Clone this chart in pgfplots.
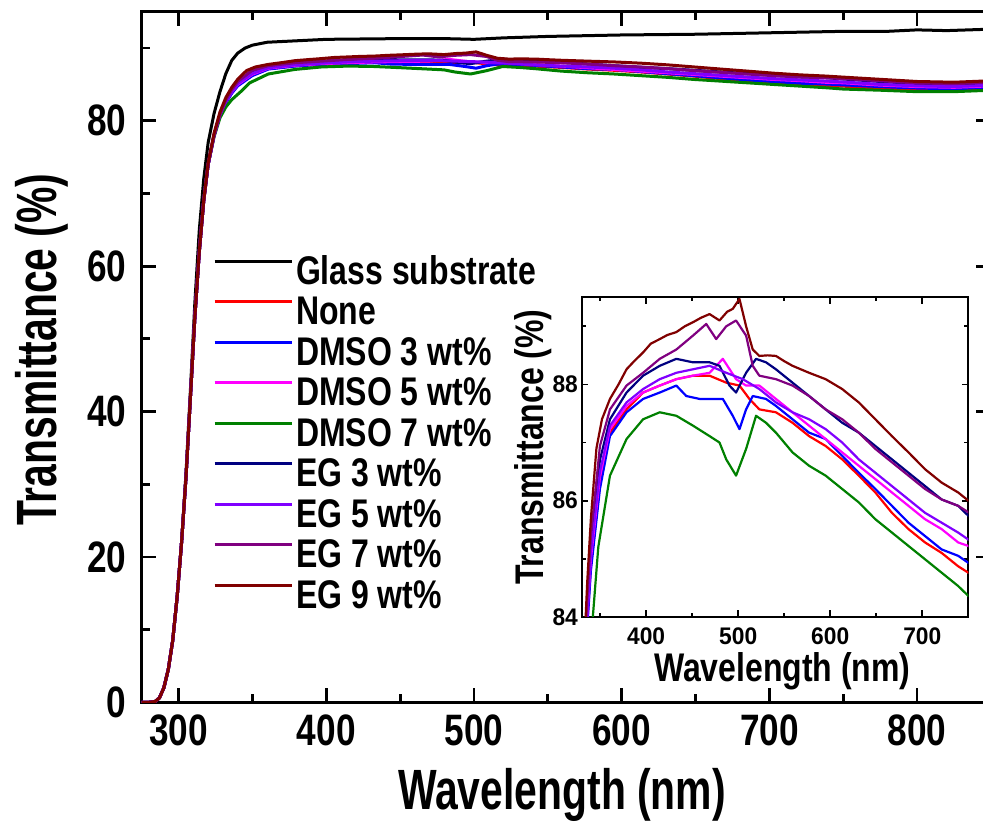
\documentclass[border=0pt]{standalone}
\usepackage{fontspec}
\setmainfont{Liberation Sans}[FakeStretch=0.8]
\newfontfamily\labfont{Liberation Sans}[FakeStretch=0.72]
\newfontfamily\insetfont{Liberation Sans}[FakeStretch=0.95]
\usepackage{pgfplots}
\usepackage{pgfplotstable}
\pgfplotsset{compat=1.18}

\definecolor{cnone}{RGB}{255,0,0}
\definecolor{cdmsoa}{RGB}{0,0,255}
\definecolor{cdmsob}{RGB}{255,0,255}
\definecolor{cdmsoc}{RGB}{0,128,0}
\definecolor{cega}{RGB}{0,0,128}
\definecolor{cegb}{RGB}{128,0,255}
\definecolor{cegc}{RGB}{128,0,128}
\definecolor{cegd}{RGB}{128,0,0}

% wavelength (nm)  transmittance (%)
\pgfplotstableread{
x y
275 0.0
280 0.0
284 0.1
287 0.6
290 2.0
293 4.5
296 8.5
299 14.5
302 22.0
305 31.5
308 43.0
311 55.0
314 65.0
317 72.0
320 77.0
324 81.0
328 84.0
332 86.5
336 88.3
340 89.3
345 90.0
350 90.4
360 90.8
380 91.0
400 91.2
450 91.3
480 91.3
500 91.2
520 91.4
550 91.6
600 91.8
650 91.9
700 92.1
750 92.3
780 92.3
800 92.5
820 92.4
850 92.6
}\glass

\pgfplotstableread{
x y
275 0.0
280 0.0
284 0.1
287 0.6
290 2.0
293 4.5
296 8.5
299 14.5
302 22.0
305 31.0
308 42.0
311 53.0
314 62.0
317 69.0
320 74.0
324 78.0
328 80.8
332 82.6
336 83.9
340 84.9
349.8 86.3
360.7 87.17
378.7 87.57
396.7 87.86
414.8 87.98
432.8 88.09
450.9 88.15
468.9 88.15
487 88.03
501.4 87.98
512.2 87.75
523 87.57
541 87.52
559 87.34
577 87.11
595 86.94
613 86.71
631 86.43
649 86.14
667 85.79
685 85.51
703 85.28
721 85.10
739 84.87
750 84.76
775 84.5
800 84.3
825 84.2
850 84.4
}\none

\pgfplotstableread{
x y
275 0.0
280 0.0
284 0.1
287 0.6
290 2.0
293 4.5
296 8.5
299 14.5
302 22.0
305 31.0
308 42.0
311 53.0
314 62.0
317 69.0
320 74.0
324 78.0
328 80.8
332 82.5
336 83.8
340 84.8
349.8 86.2
360.7 87.11
378.7 87.52
396.7 87.75
414.8 87.86
432.8 87.98
443.6 87.80
458 87.75
472.5 87.75
483.3 87.75
494.1 87.46
501.4 87.23
508.6 87.57
515.8 87.80
530.2 87.75
541 87.63
559 87.40
577 87.17
595 87.06
613 86.77
631 86.48
649 86.20
667 85.91
685 85.62
703 85.39
721 85.16
739 85.05
750 84.93
775 84.7
800 84.5
825 84.4
850 84.6
}\dmsoa

\pgfplotstableread{
x y
275 0.0
280 0.0
284 0.1
287 0.6
290 2.0
293 4.5
296 8.5
299 14.5
302 22.0
305 31.0
308 42.0
311 53.0
314 62.0
317 69.0
320 74.0
324 78.0
328 80.8
332 82.7
336 84.0
340 85.0
349.8 86.4
360.7 87.23
378.7 87.63
396.7 87.86
414.8 87.98
432.8 88.09
450.9 88.15
468.9 88.20
483.3 88.44
497.7 88.09
508.6 87.98
523 87.98
541 87.75
559 87.52
577 87.29
595 87.06
613 86.83
631 86.60
649 86.37
667 86.14
685 85.91
703 85.68
721 85.51
739 85.28
750 85.22
775 84.9
800 84.7
825 84.6
850 84.8
}\dmsob

\pgfplotstableread{
x y
275 0.0
280 0.0
284 0.1
287 0.6
290 2.0
293 4.5
296 8.5
299 14.5
302 22.0
305 31.0
308 42.0
311 53.0
314 62.0
317 69.0
320 74.0
324 77.8
328 80.4
332 81.9
336 82.9
342.6 84.1
348 85.2
360.7 86.43
378.7 87.06
396.7 87.40
414.8 87.52
432.8 87.46
450.9 87.29
468.9 87.11
479.7 87.00
487 86.71
497.7 86.43
508.6 86.89
519.4 87.46
530.2 87.34
541 87.17
559 86.83
577 86.60
595 86.43
613 86.20
631 85.97
649 85.68
667 85.45
685 85.22
703 84.99
721 84.76
739 84.53
750 84.36
775 84.2
800 84.0
825 84.0
850 84.2
}\dmsoc

\pgfplotstableread{
x y
275 0.0
280 0.0
284 0.1
287 0.6
290 2.0
293 4.5
296 8.5
299 14.5
302 22.0
305 31.0
308 42.0
311 53.0
314 62.0
317 69.0
320 74.0
324 78.0
328 80.9
332 82.8
336 84.2
340 85.3
349.8 86.70
360.7 87.40
378.7 87.86
396.7 88.15
414.8 88.32
432.8 88.44
450.9 88.38
469 88.38
479.7 88.32
490.5 87.98
497.7 87.86
508.6 88.20
519.4 88.44
530.2 88.38
541 88.26
559 88.03
577 87.80
595 87.57
613 87.34
631 87.17
649 86.94
667 86.71
685 86.48
703 86.25
721 86.02
739 85.91
750 85.74
775 85.4
800 85.1
825 85.0
850 85.2
}\ega

\pgfplotstableread{
x y
275 0.0
280 0.0
284 0.1
287 0.6
290 2.0
293 4.5
296 8.5
299 14.5
302 22.0
305 31.0
308 42.0
311 53.0
314 62.0
317 69.0
320 74.0
324 78.0
328 80.8
332 82.7
336 84.0
340 85.1
349.8 86.50
360.7 87.29
378.7 87.69
396.7 87.92
414.8 88.09
432.8 88.20
450.9 88.26
468.9 88.32
487 88.20
505 88.09
523 87.92
541 87.69
559 87.52
577 87.40
595 87.23
613 87.00
631 86.71
649 86.48
667 86.25
685 86.02
703 85.79
721 85.62
739 85.45
750 85.33
775 85.0
800 84.8
825 84.7
850 84.9
}\egb

\pgfplotstableread{
x y
275 0.0
280 0.0
284 0.1
287 0.6
290 2.0
293 4.5
296 8.5
299 14.5
302 22.0
305 31.0
308 42.0
311 53.0
314 62.0
317 69.0
320 74.0
324 78.0
328 80.9
332 82.9
336 84.3
340 85.4
349.8 86.94
360.7 87.57
378.7 87.98
396.7 88.20
414.8 88.44
432.8 88.60
450.9 88.84
465.3 89.04
476.1 88.78
487 89.00
497.7 89.10
508.6 88.84
515.8 88.32
523 88.15
541 88.09
559 87.98
577 87.80
595 87.57
613 87.40
631 87.17
649 86.89
667 86.66
685 86.43
703 86.20
721 86.02
739 85.91
750 85.80
775 85.5
800 85.2
825 85.1
850 85.3
}\egc

\pgfplotstableread{
x y
275 0.0
280 0.0
284 0.1
287 0.6
290 2.0
293 4.5
296 8.5
299 14.5
302 22.0
305 31.0
308 42.0
311 53.0
314 62.0
317 69.0
320 74.2
324 78.3
328 81.2
332 83.2
336 84.6
340 85.7
346 86.90
352 87.40
360.7 87.75
370 88.00
378.7 88.26
387 88.40
396.7 88.55
405 88.70
414.8 88.78
423 88.85
432.8 88.90
442 89.00
450.9 89.07
460 89.15
468.9 89.21
479.7 89.10
488 89.25
494.1 89.30
501.4 89.47
508.6 89.00
515.8 88.60
523 88.49
532 88.50
541 88.49
550 88.40
559 88.32
577 88.20
595 88.09
613 87.92
631 87.69
649 87.40
667 87.11
685 86.83
703 86.54
721 86.31
739 86.14
750 86.00
775 85.7
800 85.4
825 85.3
850 85.5
}\egd

\begin{document}
\begin{tikzpicture}
\begin{axis}[name=main, at={(0,0)}, anchor=south west,
  width=424.6pt, height=345.3pt, scale only axis,
  xmin=275, xmax=850, ymin=0, ymax=95,
  xtick={300,400,...,800}, minor xtick={350,450,...,850},
  ytick={0,20,...,80}, minor ytick={10,30,50,70,90},
  tick align=inside, major tick length=7.3pt, minor tick length=4.2pt,
  axis line style={line width=1.5pt},
  every tick/.style={line width=1.4pt, black},
  /pgf/number format/assume math mode=true,
  /pgf/number format/1000 sep={},
  tick label style={font=\fontsize{22}{22}\selectfont\bfseries},
  xticklabel style={inner sep=0pt, yshift=-6pt},
  yticklabel style={inner sep=0pt, xshift=-7.5pt},
  xlabel={Wavelength (nm)}, ylabel={Transmittance (\%)},
  label style={font=\labfont\fontsize{28.4}{28.4}\selectfont\bfseries, inner sep=0pt},
  xlabel style={at={(axis description cs:0.4949,-0.1554)}, anchor=base},
  ylabel style={at={(axis description cs:-0.1,0.5107)}, anchor=base},
  legend style={draw=none, fill=none, inner sep=0pt,
    at={(axis description cs:0.0836,0.6476)}, anchor=north west,
    font=\fontsize{20}{20}\selectfont\bfseries, column sep=1.5pt,
    nodes={inner sep=0pt, text height=14.5pt, text depth=5.75pt},
    cells={anchor=west}},
  legend image code/.code={\draw[#1] (0pt,7.2pt) -- (38.5pt,7.2pt);},
  every axis plot/.append style={line width=1.5pt, line join=round},
]
\addplot[black] table {\glass};
\addlegendentry{Glass substrate}
\addplot[cnone] table {\none};
\addlegendentry{None}
\addplot[cdmsoa] table {\dmsoa};
\addlegendentry{DMSO 3 wt\%}
\addplot[cdmsob] table {\dmsob};
\addlegendentry{DMSO 5 wt\%}
\addplot[cdmsoc] table {\dmsoc};
\addlegendentry{DMSO 7 wt\%}
\addplot[cega] table {\ega};
\addlegendentry{EG 3 wt\%}
\addplot[cegb] table {\egb};
\addlegendentry{EG 5 wt\%}
\addplot[cegc] table {\egc};
\addlegendentry{EG 7 wt\%}
\addplot[cegd] table {\egd};
\addlegendentry{EG 9 wt\%}
\end{axis}

\begin{axis}[at={(220pt,42.7pt)}, anchor=south west,
  width=193.3pt, height=159.8pt, scale only axis,
  xmin=330, xmax=750, ymin=84, ymax=89.5,
  xtick={400,500,600,700}, minor xtick={350,450,...,750},
  ytick={84,86,88}, minor ytick={85,87,89},
  tick align=inside, major tick length=3.2pt, minor tick length=2pt,
  axis line style={line width=1pt},
  every tick/.style={line width=0.9pt, black},
  /pgf/number format/assume math mode=true,
  tick label style={font=\insetfont\fontsize{12}{12}\selectfont\bfseries},
  xticklabel style={inner sep=0pt, yshift=-5.3pt},
  yticklabel style={inner sep=0pt, xshift=-1.7pt},
  xlabel={Wavelength (nm)}, ylabel={Transmittance (\%)},
  label style={font=\fontsize{20}{20}\selectfont\bfseries, inner sep=0pt},
  xlabel style={at={(axis description cs:0.519,-0.2015)}, anchor=base},
  ylabel style={at={(axis description cs:-0.1,0.531)}, anchor=base},
  every axis plot/.append style={line width=1.1pt, line join=round},
]
\addplot[cnone] table {\none};
\addplot[cdmsoa] table {\dmsoa};
\addplot[cdmsob] table {\dmsob};
\addplot[cdmsoc] table {\dmsoc};
\addplot[cega] table {\ega};
\addplot[cegb] table {\egb};
\addplot[cegc] table {\egc};
\addplot[cegd] table {\egd};
\end{axis}
\pgfresetboundingbox
\path (-70.85pt,-60.65pt) rectangle (420.65pt,351.15pt);
\end{tikzpicture}
\end{document}
